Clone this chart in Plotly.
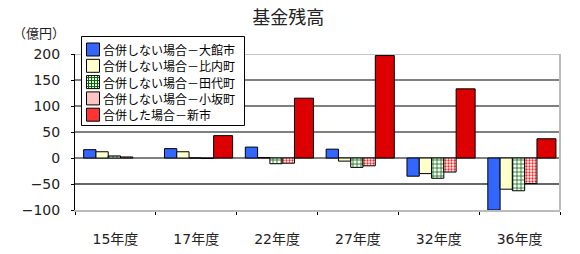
import plotly.graph_objects as go

categories = ["15年度", "17年度", "22年度", "27年度", "32年度", "36年度"]
series_names = [
    "合併しない場合－大館市",
    "合併しない場合－比内町",
    "合併しない場合－田代町",
    "合併しない場合－小坂町",
    "合併した場合－新市",
]
odate = [16, 18, 21, 17, -35, -100]
hinai = [12, 12, 1, -6, -30, -60]
tashiro = [4, 0, -11, -18, -39, -63]
kosaka = [2, -1, -10, -15, -27, -49]
shinshi = [None, 43, 115, 197, 133, 37]
y_ticks = [-100, -50, 0, 50, 100, 150, 200]

W, H = 580, 254
ML, MR, MT, MB = 75, 20, 54, 44
PW, PH = W - ML - MR, H - MT - MB


def px(x):
    return (x - ML) / PW


def py(y):
    return (H - MB - y) / PH


TXT = "#222222"
FONT = "DejaVu Sans, Noto Sans CJK JP, sans-serif"
CJK = "Noto Sans CJK JP, sans-serif"

bw = 0.152
rw = 0.235
start = -0.393

GREEN = "#006600"
PINKDOT = "#ff2020"
styles = [
    dict(color="#3366ff"),
    dict(color="#ffffcc"),
    dict(color="#ffffff", pattern=dict(shape="+", fgcolor=GREEN, bgcolor="#ffffff", size=4, solidity=0.35, fillmode="replace")),
    dict(color="#ffffff", pattern=dict(shape=".", fgcolor=PINKDOT, bgcolor="#ffffff", size=3, solidity=0.45, fillmode="replace")),
    dict(color="#dd0000"),
]
swatch_fill = ["#3366ff", "#ffffcc", "#ffffff", "#ffc4c4", "#ff3333"]
values = [odate, hinai, tashiro, kosaka, shinshi]

fig = go.Figure()
off = start
for i, (name, vals, st) in enumerate(zip(series_names, values, styles)):
    w = rw if i == 4 else bw
    fig.add_trace(go.Bar(
        x=categories, y=vals, name=name,
        offset=off, width=w, showlegend=False,
        marker=dict(line=dict(color="#000000", width=1), **st),
    ))
    off += w

grid_styles = {
    200: ("#b0b0b0", 1.5),
    150: ("#808080", 2),
    100: ("#555555", 1.5),
    50: ("#000000", 1),
    0: ("#000000", 1),
    -50: ("#333333", 1.5),
}
shapes = []
for v in y_ticks:
    if v in grid_styles:
        c, w = grid_styles[v]
        shapes.append(dict(type="line", xref="paper", yref="y", x0=0, x1=1, y0=v, y1=v,
                           line=dict(color=c, width=w), layer="below"))
shapes.append(dict(type="line", xref="paper", yref="y", x0=1, x1=1, y0=y_ticks[0], y1=y_ticks[-1],
                   line=dict(color="#bbbbbb", width=2), layer="below"))

# custom legend
LX0, LY0, LX1, LY1 = 81.5, 36.5, 244.5, 125.5
shapes.append(dict(type="rect", xref="paper", yref="paper", x0=px(LX0), x1=px(LX1), y0=py(LY1), y1=py(LY0),
                   fillcolor="#ffffff", line=dict(color="#000000", width=1), layer="above"))
annotations = []
row0, rowgap = 49.5, 16.3
sx0, sx1 = 86.5, 99.5
for i, name in enumerate(series_names):
    cy = row0 + rowgap * i
    y0, y1 = cy - 6.5, cy + 6.5
    shapes.append(dict(type="rect", xref="paper", yref="paper", x0=px(sx0), x1=px(sx1), y0=py(y1), y1=py(y0),
                       fillcolor=swatch_fill[i], line=dict(width=0), layer="above"))
    if i == 2:
        k = sx0 + 2
        while k < sx1:
            shapes.append(dict(type="line", xref="paper", yref="paper", x0=px(k), x1=px(k), y0=py(y1), y1=py(y0),
                               line=dict(color=GREEN, width=1), layer="above"))
            k += 3
        k = y0 + 2
        while k < y1:
            shapes.append(dict(type="line", xref="paper", yref="paper", x0=px(sx0), x1=px(sx1), y0=py(k), y1=py(k),
                               line=dict(color=GREEN, width=1), layer="above"))
            k += 3
    shapes.append(dict(type="rect", xref="paper", yref="paper", x0=px(sx0), x1=px(sx1), y0=py(y1), y1=py(y0),
                       fillcolor="rgba(0,0,0,0)", line=dict(color="#000000", width=1), layer="above"))
    annotations.append(dict(text=name, xref="paper", yref="paper", x=px(102), y=py(cy),
                            xanchor="left", yanchor="middle", showarrow=False, borderpad=0,
                            font=dict(family=CJK, size=12, color="#000000")))

annotations.append(dict(text="（億円）", xref="paper", yref="paper", x=px(12), y=py(32),
                        xanchor="left", yanchor="middle", showarrow=False, borderpad=0,
                        font=dict(family=CJK, size=13, color=TXT)))

fig.update_layout(
    width=W, height=H,
    margin=dict(l=ML, r=MR, t=MT, b=MB, autoexpand=False),
    paper_bgcolor="#ffffff", plot_bgcolor="#ffffff",
    barmode="overlay",
    showlegend=False,
    shapes=shapes,
    annotations=annotations,
    font=dict(family=FONT, color=TXT),
    title=dict(text="基金残高", x=0.497, xanchor="center", y=1 - 18 / H, yanchor="middle",
               font=dict(family=CJK, size=18, color=TXT)),
)
fig.update_xaxes(
    type="category", range=[-0.5, 5.5],
    showline=True, linecolor="#bbbbbb", linewidth=2,
    ticks="outside", tickson="boundaries", ticklen=3, tickcolor="#000000",
    tickfont=dict(family=FONT, size=14, color=TXT), tickangle=0,
    ticklabelstandoff=15, showgrid=False,
)
fig.update_yaxes(
    range=[-100, 200], tickvals=y_ticks,
    showline=True, linecolor="#000000", linewidth=1,
    ticks="outside", ticklen=3, tickcolor="#000000",
    tickfont=dict(family=FONT, size=14, color=TXT),
    ticklabelstandoff=8, showgrid=False, zeroline=False,
)

fig.write_html("out.html")
